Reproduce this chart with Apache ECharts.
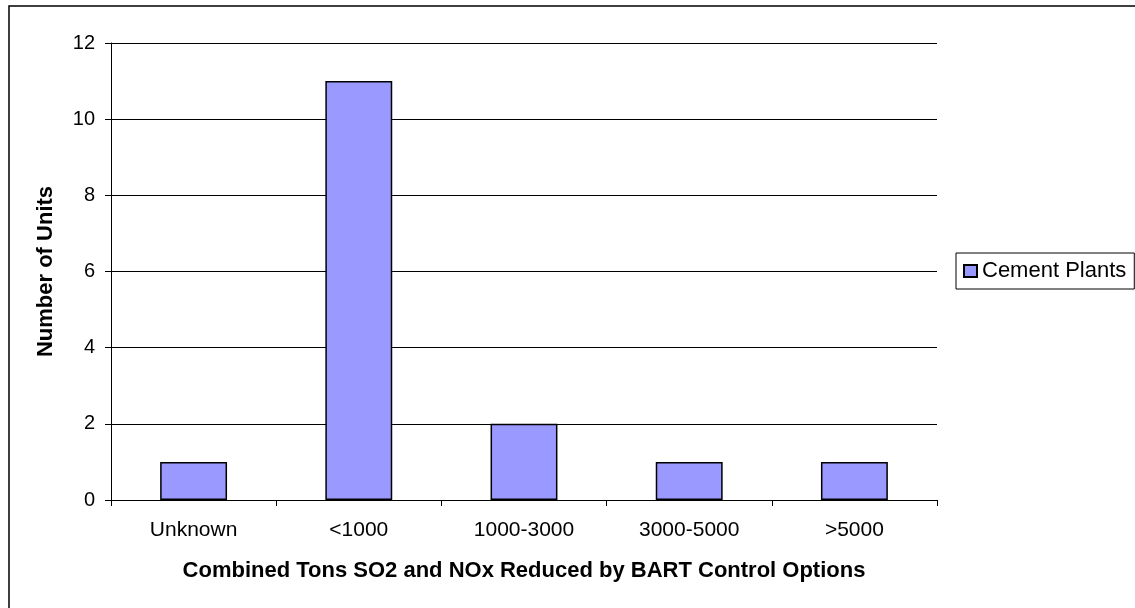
<!DOCTYPE html>
<html>
<head>
<meta charset="utf-8">
<script src="https://cdn.jsdelivr.net/npm/echarts@6/dist/echarts.min.js"></script>
<style>
html,body{margin:0;padding:0;background:#fff;}
#chart{width:1135px;height:608px;}
</style>
</head>
<body>
<div id="chart"></div>
<script>
const categories = ['Unknown', '<1000', '1000-3000', '3000-5000', '>5000'];
const cementPlants = [1, 11, 2, 1, 1];
const seriesName = 'Cement Plants';
const xTitle = 'Combined Tons SO2 and NOx Reduced by BART Control Options';
const yTitle = 'Number of Units';

const FONT = 'Arial, "Liberation Sans", sans-serif';
const chart = echarts.init(document.getElementById('chart'), null, {renderer: 'canvas'});
chart.setOption({
  animation: false,
  backgroundColor: '#fff',
  graphic: [{
    type: 'rect',
    shape: {x: 9, y: 6, width: 1300, height: 800},
    style: {fill: 'none', stroke: '#000', lineWidth: 1.5},
    silent: true
  }],
  grid: {left: 111, top: 43, width: 826, height: 457, containLabel: false},
  legend: {
    left: 956, top: 253,
    orient: 'vertical',
    padding: [7, 8, 7, 7],
    borderColor: '#000', borderWidth: 1,
    backgroundColor: '#fff',
    itemWidth: 13, itemHeight: 12,
    textStyle: {fontFamily: FONT, fontSize: 22, color: '#000'},
    data: [{name: seriesName, icon: 'rect'}]
  },
  xAxis: {
    type: 'category',
    data: categories,
    name: xTitle,
    nameLocation: 'middle',
    nameGap: 60,
    nameTextStyle: {fontFamily: FONT, fontSize: 22, fontWeight: 'bold', color: '#000'},
    axisLine: {lineStyle: {color: '#000', width: 1}},
    axisTick: {show: true, length: 6, inside: false, lineStyle: {color: '#000'}},
    axisLabel: {fontFamily: FONT, fontSize: 21, color: '#000', margin: 20},
    splitLine: {show: false}
  },
  yAxis: {
    type: 'value',
    min: 0, max: 12, interval: 2,
    name: yTitle,
    nameLocation: 'middle',
    nameGap: 54,
    nameTextStyle: {fontFamily: FONT, fontSize: 22, fontWeight: 'bold', color: '#000'},
    axisLine: {show: true, lineStyle: {color: '#000', width: 1}},
    axisTick: {show: true, length: 6, lineStyle: {color: '#000'}},
    axisLabel: {fontFamily: FONT, fontSize: 20, color: '#000', margin: 16},
    splitLine: {show: true, lineStyle: {color: '#000', width: 1}}
  },
  series: [{
    name: seriesName,
    type: 'bar',
    data: cementPlants,
    barWidth: '40.5%',
    itemStyle: {color: '#9999FF', borderColor: '#000', borderWidth: 1.5}
  }]
});
</script>
</body>
</html>
